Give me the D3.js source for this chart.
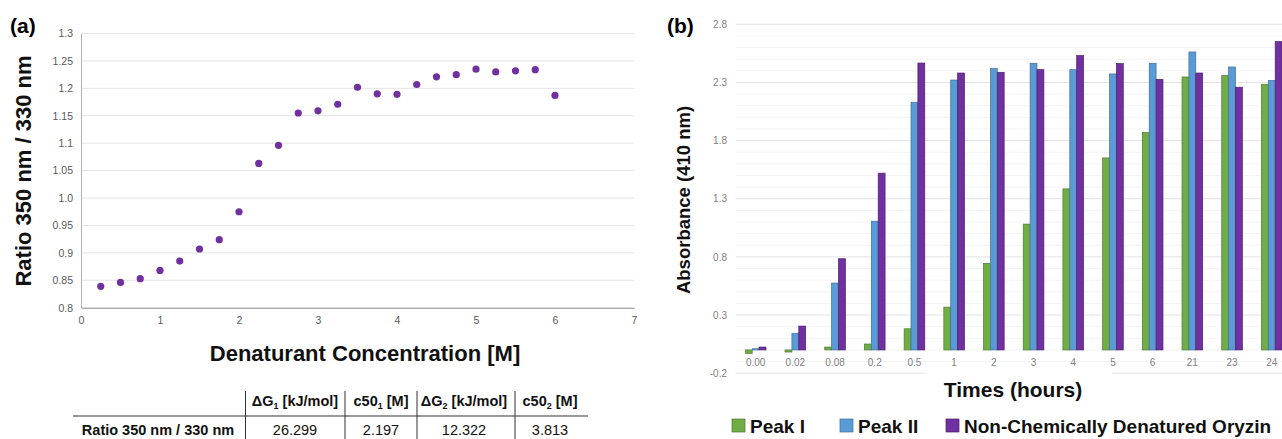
<html>
<head>
<meta charset="utf-8">
<style>
  body { margin: 0; background: #fff; }
  text { font-family: Arial, "Liberation Sans", sans-serif; }
</style>
</head>
<body>
<script src="https://cdn.jsdelivr.net/npm/d3@7/dist/d3.min.js"></script>
<script>
// ---- data: panel (a) ----
var concA = [0.25, 0.5, 0.75, 1.0, 1.25, 1.5, 1.75, 2.0, 2.25, 2.5, 2.75, 3.0, 3.25, 3.5, 3.75, 4.0, 4.25, 4.5, 4.75, 5.0, 5.25, 5.5, 5.75, 6.0];
var ratioA = [0.839, 0.846, 0.853, 0.868, 0.885, 0.907, 0.924, 0.975, 1.063, 1.096, 1.155, 1.159, 1.171, 1.202, 1.190, 1.189, 1.207, 1.221, 1.225, 1.235, 1.230, 1.232, 1.234, 1.187];
var yTicksA = [0.8, 0.85, 0.9, 0.95, 1.0, 1.05, 1.1, 1.15, 1.2, 1.25, 1.3];
var yLabelsA = ["0.8", "0.85", "0.9", "0.95", "1.0", "1.05", "1.1", "1.15", "1.2", "1.25", "1.3"];
var xTicksA = [0, 1, 2, 3, 4, 5, 6, 7];

// table under (a)
var tableHead = [["\u0394G", "1", " [kJ/mol]"], ["c50", "1", " [M]"], ["\u0394G", "2", " [kJ/mol]"], ["c50", "2", " [M]"]];
var tableRowLabel = "Ratio 350 nm / 330 nm";
var tableRow = ["26.299", "2.197", "12.322", "3.813"];

// ---- data: panel (b) ----
var timesB = ["0.00", "0.02", "0.08", "0.2", "0.5", "1", "2", "3", "4", "5", "6", "21", "23", "24"];
var seriesB = ["Peak I", "Peak II", "Non-Chemically Denatured Oryzin"];
var peak1 = [-0.03, -0.018, 0.025, 0.051, 0.182, 0.368, 0.744, 1.082, 1.385, 1.651, 1.869, 2.347, 2.359, 2.284];
var peak2 = [0.01, 0.143, 0.575, 1.107, 2.13, 2.321, 2.419, 2.465, 2.41, 2.373, 2.465, 2.562, 2.433, 2.316];
var nonDen = [0.025, 0.205, 0.784, 1.52, 2.467, 2.381, 2.387, 2.41, 2.531, 2.462, 2.327, 2.381, 2.259, 2.651];
var yTicksB = [-0.2, 0.3, 0.8, 1.3, 1.8, 2.3, 2.8];
var yLabelsB = ["-0.2", "0.3", "0.8", "1.3", "1.8", "2.3", "2.8"];
var colorsB = ["#70ad47", "#5b9bd5", "#7030a0"];
var strokesB = ["#4f7a32", "#3f6f9c", "#4a1f6c"];

var svg = d3.select("body").append("svg")
    .attr("width", 1282)
    .attr("height", 439);

// =============== panel (a) ===============
var xA = d3.scaleLinear().domain([0, 7]).range([81, 634]);
var yA = d3.scaleLinear().domain([0.8, 1.3]).range([307.7, 33.5]);

var gA = svg.append("g");

// grid
gA.append("g").selectAll("line")
    .data(yTicksA.slice(1))
    .enter().append("line")
    .attr("x1", xA(0)).attr("x2", xA(7))
    .attr("y1", function(d) { return yA(d); })
    .attr("y2", function(d) { return yA(d); })
    .attr("stroke", "#e4e4e4")
    .attr("stroke-width", 1);

// y axis
var yAxisA = gA.append("g")
    .attr("transform", "translate(" + xA(0) + ",0)")
    .call(d3.axisLeft(yA).tickValues(yTicksA).tickSize(0).tickPadding(8)
        .tickFormat(function(d, i) { return yLabelsA[i]; }));
yAxisA.select(".domain").attr("stroke", "#b0b0b0");
yAxisA.selectAll("text").attr("font-size", 10.5).attr("fill", "#595959")
    .style("font-family", "Arial, 'Liberation Sans', sans-serif");

// x axis
var xAxisA = gA.append("g")
    .attr("transform", "translate(0," + yA(0.8) + ")")
    .call(d3.axisBottom(xA).tickValues(xTicksA).tickSize(0).tickPadding(9)
        .tickFormat(d3.format("d")));
xAxisA.select(".domain").attr("stroke", "#8a8a8a");
xAxisA.selectAll("text").attr("font-size", 10.5).attr("fill", "#595959")
    .style("font-family", "Arial, 'Liberation Sans', sans-serif");

// points
gA.append("g").selectAll("circle")
    .data(concA)
    .enter().append("circle")
    .attr("cx", function(d) { return xA(d); })
    .attr("cy", function(d, i) { return yA(ratioA[i]); })
    .attr("r", 3.6)
    .attr("fill", "#7030a0");

// titles
svg.append("text").attr("x", 10).attr("y", 33)
    .attr("font-size", 21).attr("font-weight", "bold").text("(a)");

svg.append("text")
    .attr("transform", "translate(31,171) rotate(-90)")
    .attr("text-anchor", "middle")
    .attr("font-size", 22).attr("font-weight", "bold").attr("fill", "#111")
    .text("Ratio 350 nm / 330 nm");

svg.append("text")
    .attr("x", 365).attr("y", 361)
    .attr("text-anchor", "middle")
    .attr("font-size", 22).attr("font-weight", "bold").attr("fill", "#111")
    .text("Denaturant Concentration [M]");

// table
var colX = [295, 381, 464, 550];
var vLines = [245.5, 345, 417, 515];
var gT = svg.append("g");
gT.append("line").attr("x1", 73).attr("x2", 588).attr("y1", 416).attr("y2", 416)
    .attr("stroke", "#333").attr("stroke-width", 1.2);
gT.selectAll("line.v").data(vLines).enter().append("line")
    .attr("class", "v")
    .attr("x1", function(d) { return d; }).attr("x2", function(d) { return d; })
    .attr("y1", 391).attr("y2", 439)
    .attr("stroke", "#333").attr("stroke-width", 1);
var head = gT.selectAll("text.h").data(tableHead).enter().append("text")
    .attr("class", "h")
    .attr("x", function(d, i) { return colX[i]; })
    .attr("y", 406)
    .attr("text-anchor", "middle")
    .attr("font-size", 14.5).attr("font-weight", "bold").attr("fill", "#111");
head.append("tspan").text(function(d) { return d[0]; });
head.append("tspan").attr("font-size", 9).attr("dy", 3).text(function(d) { return d[1]; });
head.append("tspan").attr("dy", -3).text(function(d) { return d[2]; });
gT.append("text").attr("x", 158).attr("y", 435).attr("text-anchor", "middle")
    .attr("font-size", 14.5).attr("font-weight", "bold").attr("fill", "#111")
    .text(tableRowLabel);
gT.selectAll("text.val").data(tableRow).enter().append("text")
    .attr("class", "val")
    .attr("x", function(d, i) { return colX[i]; })
    .attr("y", 435)
    .attr("text-anchor", "middle")
    .attr("font-size", 14.5).attr("fill", "#111")
    .text(function(d) { return d; });

// =============== panel (b) ===============
var x0 = 735.8, stepB = 39.7;
var xB = d3.scaleBand().domain(timesB).range([x0, x0 + stepB * timesB.length])
    .paddingInner(0.48).paddingOuter(0.24);
var xSub = d3.scaleBand().domain(seriesB).range([0, xB.bandwidth()]);
var yB = d3.scaleLinear().domain([-0.2, 2.8]).range([373.2, 24.3]);

var gB = svg.append("g");

// minor grid every 0.1
var minorB = d3.range(-2, 29).map(function(d) { return d / 10; });
gB.append("g").selectAll("line")
    .data(minorB)
    .enter().append("line")
    .attr("x1", 736).attr("x2", 1282)
    .attr("y1", function(d) { return yB(d); })
    .attr("y2", function(d) { return yB(d); })
    .attr("stroke", function(d) {
        return yTicksB.some(function(t) { return Math.abs(t - d) < 1e-6; }) ? "#e2e2e2" : "#f3f3f3";
    })
    .attr("stroke-width", 1);

var yAxisB = gB.append("g")
    .attr("transform", "translate(736,0)")
    .call(d3.axisLeft(yB).tickValues(yTicksB).tickSize(0).tickPadding(9)
        .tickFormat(function(d, i) { return yLabelsB[i]; }));
yAxisB.select(".domain").remove();
yAxisB.selectAll("text").attr("font-size", 10).attr("fill", "#7f7f7f")
    .style("font-family", "Arial, 'Liberation Sans', sans-serif");

// bars
var allSeries = [peak1, peak2, nonDen];
allSeries.forEach(function(vals, s) {
    gB.append("g").selectAll("rect")
        .data(vals)
        .enter().append("rect")
        .attr("x", function(d, i) { return xB(timesB[i]) + xSub(seriesB[s]); })
        .attr("width", xSub.bandwidth())
        .attr("y", function(d) { return yB(Math.max(0, d)); })
        .attr("height", function(d) { return Math.abs(yB(d) - yB(0)); })
        .attr("fill", colorsB[s])
        .attr("stroke", strokesB[s])
        .attr("stroke-width", 0.7);
});

// x category labels
gB.append("g").selectAll("text")
    .data(timesB)
    .enter().append("text")
    .attr("x", function(d) { return xB(d) + xB.bandwidth() / 2; })
    .attr("y", 365.5)
    .attr("text-anchor", "middle")
    .attr("font-size", 10).attr("fill", "#7f7f7f")
    .text(function(d) { return d; });

// white box behind x title (hides part of the -0.2 gridline)
gB.append("rect").attr("x", 925).attr("y", 368).attr("width", 187).attr("height", 40)
    .attr("fill", "#fff");
gB.append("text")
    .attr("x", 1013).attr("y", 397)
    .attr("text-anchor", "middle")
    .attr("font-size", 21).attr("font-weight", "bold").attr("fill", "#111")
    .text("Times (hours)");

svg.append("text").attr("x", 667).attr("y", 33)
    .attr("font-size", 21).attr("font-weight", "bold").text("(b)");

svg.append("text")
    .attr("transform", "translate(690,200) rotate(-90)")
    .attr("text-anchor", "middle")
    .attr("font-size", 18.5).attr("font-weight", "bold").attr("fill", "#111")
    .text("Absorbance (410 nm)");

// legend
var legX = [732, 840, 946];
var leg = gB.append("g").selectAll("g")
    .data(seriesB)
    .enter().append("g")
    .attr("transform", function(d, i) { return "translate(" + legX[i] + ",419)"; });
leg.append("rect").attr("width", 13).attr("height", 13)
    .attr("fill", function(d, i) { return colorsB[i]; })
    .attr("stroke", function(d, i) { return strokesB[i]; })
    .attr("stroke-width", 0.7);
leg.append("text").attr("x", 18).attr("y", 13.5)
    .attr("font-size", 19).attr("font-weight", "bold").attr("fill", "#111")
    .text(function(d) { return d; });
</script>
</body>
</html>
